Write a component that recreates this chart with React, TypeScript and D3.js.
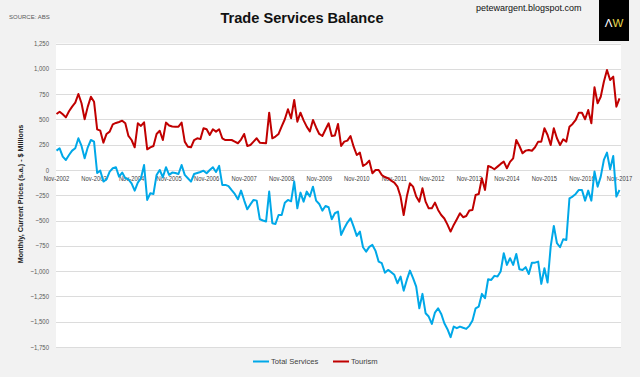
import React from "react";
import * as d3 from "d3";

// Monthly, Nov-2002 .. Nov-2017 (181 points)
const tourism: number[] = [
  553, 576, 550, 520, 580, 626, 665, 751, 659, 501, 626, 724, 675, 402, 388, 270, 356, 379, 451, 465,
  474, 487, 461, 336, 296, 224, 461, 435, 471, 204, 224, 237, 356, 388, 296, 468, 440, 430, 428, 428,
  468, 280, 230, 224, 296, 313, 305, 412, 402, 346, 402, 379, 402, 313, 296, 296, 296, 280, 264, 300,
  356, 237, 247, 280, 313, 270, 267, 264, 566, 313, 330, 356, 430, 501, 600, 511, 692, 477, 566, 490,
  428, 380, 494, 420, 356, 336, 400, 461, 336, 340, 455, 237, 280, 290, 336, 230, 148, 171, 40, 59,
  92, -33, 0, 0, -50, -70, -82, -105, -125, -165, -263, -445, -263, -132, -165, -263, -313, -181, -313, -379,
  -379, -323, -395, -445, -480, -540, -609, -543, -487, -428, -467, -455, -400, -395, -247, -237, -82, -198, 40, 27,
  7, 33, 60, 82, 17, 80, 115, 296, 237, 165, 191, 198, 190, 224, 280, 280, 412, 346, 247, 412,
  313, 247, 303, 280, 428, 455, 494, 566, 566, 501, 593, 461, 817, 659, 724, 872, 988, 889, 922, 626,
  708,
];

const totalServices: number[] = [
  191, 214, 132, 99, 148, 191, 214, 313, 237, 115, 224, 296, 280, -30, -7, -115, -92, -16, 17, 27,
  -66, -26, -82, -92, -132, -204, -125, -82, 49, -296, -230, -237, -49, 0, -72, 27, -49, -26, -30, -40,
  49, -49, -82, -115, -40, -30, -20, -7, -33, 0, 27, -20, 40, -148, -148, -160, -200, -237, -290, -204,
  -300, -389, -340, -296, -303, -487, -500, -510, -214, -527, -534, -445, -445, -323, -296, -310, -115, -379, -224, -313,
  -214, -263, -165, -303, -336, -402, -356, -369, -487, -428, -412, -642, -576, -520, -477, -560, -652, -609, -764, -807,
  -760, -741, -800, -906, -922, -1015, -988, -1010, -1037, -1120, -1054, -1193, -1087, -995, -1070, -1153, -1367, -1225, -1416, -1449,
  -1522, -1410, -1367, -1423, -1515, -1574, -1653, -1548, -1564, -1548, -1560, -1571, -1541, -1489, -1367, -1350, -1225, -1268, -1080, -1087,
  -1047, -1054, -1004, -823, -939, -872, -939, -830, -981, -988, -961, -1028, -916, -916, -906, -1126, -971, -1113, -758, -553,
  -724, -764, -685, -692, -280, -263, -237, -198, -198, -303, -204, -303, -16, -165, -66, 99, 171, 7, 138, -263,
  -198,
];

const xLabels: string[] = [
  "Nov-2002", "Nov-2003", "Nov-2004", "Nov-2005", "Nov-2006", "Nov-2007", "Nov-2008", "Nov-2009",
  "Nov-2010", "Nov-2011", "Nov-2012", "Nov-2013", "Nov-2014", "Nov-2015", "Nov-2016", "Nov-2017",
];

const yTicks: number[] = [1250, 1000, 750, 500, 250, 0, -250, -500, -750, -1000, -1250, -1500, -1750];

const seriesNames: string[] = ["Total Services", "Tourism"];

const W = 640;
const H = 377;
const plotL = 56;
const plotR = 621;
const plotT = 43.5;
const plotB = 347;

const BLUE = "#00a8e8";
const RED = "#c00000";
const SANS = "'Liberation Sans', Arial, sans-serif";

export default function App() {
  const x = d3.scaleLinear().domain([0, 180]).range([56.5, 619.5]);
  const y = d3.scaleLinear().domain([-1750, 1250]).range([plotB, plotT]);
  const line = d3
    .line<number>()
    .x((_, i) => x(i))
    .y((d) => y(d));
  const fmt = d3.format(",");

  return (
    <svg
      width={W}
      height={H}
      style={{ position: "absolute", left: 0, top: 0, display: "block" }}
    >
      <rect x={0} y={0} width={W} height={H} fill="#f2f2f2" />
      <rect x={plotL} y={plotT} width={plotR - plotL} height={plotB - plotT} fill="#ffffff" />
      {yTicks.map((t) => (
        <line
          key={"g" + t}
          x1={plotL}
          x2={plotR}
          y1={Math.round(y(t)) + 0.5}
          y2={Math.round(y(t)) + 0.5}
          stroke="#dcdcdc"
          strokeWidth={1}
        />
      ))}
      {yTicks.map((t) => (
        <text
          key={"yl" + t}
          transform={`translate(49, ${y(t)}) scale(0.8, 1)`}
          dy="0.35em"
          textAnchor="end"
          fontFamily={SANS}
          fontSize={7.5}
          fill="#595959"
        >
          {fmt(t)}
        </text>
      ))}
      {xLabels.map((l, k) => (
        <text
          key={"xl" + l}
          transform={`translate(${x(k * 12)}, ${y(0) + 8.5}) scale(0.78, 1)`}
          dy="0.35em"
          textAnchor="middle"
          fontFamily={SANS}
          fontSize={7.5}
          fill="#404040"
        >
          {l}
        </text>
      ))}
      <path d={line(totalServices) || ""} fill="none" stroke={BLUE} strokeWidth={2} strokeLinejoin="round" />
      <path d={line(tourism) || ""} fill="none" stroke={RED} strokeWidth={2} strokeLinejoin="round" />

      <text x={9} y={19} fontFamily={SANS} fontSize={6} fill="#595959">
        SOURCE: ABS
      </text>
      <text
        x={302}
        y={22.5}
        textAnchor="middle"
        fontFamily={SANS}
        fontWeight="bold"
        fontSize={14.6}
        fill="#111111"
      >
        Trade Services Balance
      </text>
      <text x={476} y={11} fontFamily={SANS} fontSize={9} fill="#111111">
        petewargent.blogspot.com
      </text>
      <rect x={599} y={0} width={30} height={41} fill="#000000" />
      <text x={614} y={26.5} textAnchor="middle" fontFamily={SANS} fontSize={11.5}>
        <tspan fill="#ffffff">Λ</tspan>
        <tspan fill="#e6d84c">W</tspan>
      </text>

      <text
        transform={`translate(23, 194) rotate(-90) scale(0.9, 1)`}
        textAnchor="middle"
        fontFamily={SANS}
        fontWeight="bold"
        fontSize={8}
        fill="#222222"
      >
        Monthly, Current Prices (s.a.) - $ Millions
      </text>

      <line x1={253} x2={269} y1={361.5} y2={361.5} stroke={BLUE} strokeWidth={2} />
      <text x={271} y={361.5} dy="0.35em" fontFamily={SANS} fontSize={7.6} fill="#404040">
        {seriesNames[0]}
      </text>
      <line x1={333} x2={349} y1={361.5} y2={361.5} stroke={RED} strokeWidth={2} />
      <text x={351} y={361.5} dy="0.35em" fontFamily={SANS} fontSize={7.6} fill="#404040">
        {seriesNames[1]}
      </text>
    </svg>
  );
}
